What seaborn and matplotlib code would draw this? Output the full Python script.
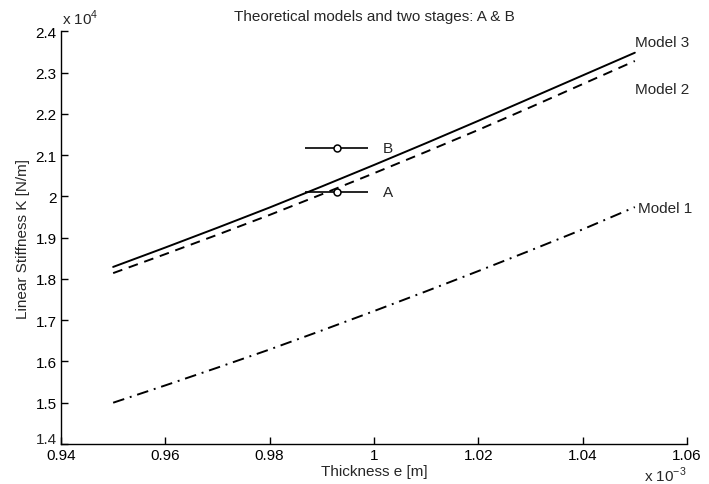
import matplotlib
matplotlib.use("Agg")
import matplotlib.pyplot as plt
import matplotlib.transforms as mtransforms
import seaborn as sns
import pandas as pd
from matplotlib.ticker import FuncFormatter, MultipleLocator

# thickness in units of 1e-3 m, stiffness in units of 1e4 N/m
thickness = [0.95, 0.96, 0.97, 0.98, 0.99, 1.00, 1.01, 1.02, 1.03, 1.04, 1.05]
model_3 = [1.829, 1.876, 1.924, 1.973, 2.024, 2.076, 2.129, 2.183, 2.238, 2.293, 2.348]
model_2 = [1.814, 1.860, 1.907, 1.955, 2.005, 2.056, 2.108, 2.161, 2.216, 2.272, 2.328]
model_1 = [1.500, 1.542, 1.585, 1.629, 1.675, 1.722, 1.770, 1.819, 1.869, 1.920, 1.974]

stages = ["B", "A"]
stage_e = [0.99285, 0.99285]
stage_k = [2.116, 2.011]
stage_err = [0.006, 0.006]

y_min, y_max = 1.4, 2.4


def setup_style():
    sns.set_theme(style="white")
    plt.rcParams["font.family"] = ["Liberation Sans", "DejaVu Sans"]
    plt.rcParams["mathtext.fontset"] = "custom"
    plt.rcParams["mathtext.rm"] = "Liberation Sans"


setup_style()

df = pd.DataFrame({
    "e": thickness * 3,
    "K": model_3 + model_2 + model_1,
    "model": ["Model 3"] * 11 + ["Model 2"] * 11 + ["Model 1"] * 11,
})

fig = plt.figure(figsize=(7.09, 4.85), dpi=100)
ax = fig.add_axes([0.086, 0.0825, 0.883, 0.851])

sns.lineplot(data=df, x="e", y="K", style="model", ax=ax, color="black",
             linewidth=1.4, legend=False,
             dashes={"Model 3": "", "Model 2": (5, 3.5), "Model 1": (6, 3, 1, 3)})

for name, e, k, err in zip(stages, stage_e, stage_k, stage_err):
    ax.errorbar(e, k, xerr=err, fmt="o", color="black", mfc="white",
                markersize=5, mew=1.1, elinewidth=1.2, capsize=0)
    ax.text(e + 0.0089, k, name, fontsize=11, va="center", ha="left")

ax.text(1.0500, 2.373, "Model 3", fontsize=11, va="center", ha="left")
ax.text(1.0500, 2.26, "Model 2", fontsize=11, va="center", ha="left")
ax.text(1.0506, 1.971, "Model 1", fontsize=11, va="center", ha="left")

ax.set_xlim(0.94, 1.06)
ax.set_ylim(y_min, y_max)
ax.xaxis.set_major_locator(MultipleLocator(0.02))
ax.yaxis.set_major_locator(MultipleLocator(0.1))
ax.xaxis.set_major_formatter(FuncFormatter(lambda v, p: "%g" % round(v, 2)))
# the lowest y label is drawn by hand, nudged up clear of the 0.94 label
ax.yaxis.set_major_formatter(FuncFormatter(
    lambda v, p: "" if abs(v - y_min) < 1e-6 else "%g" % round(v, 1)))
lift = ax.get_yaxis_transform() + mtransforms.ScaledTranslation(-3 / 72, 3.5 / 72, fig.dpi_scale_trans)
ax.text(0, y_min, "%g" % y_min, fontsize=11, ha="right", va="center", transform=lift)

for side in ["top", "right"]:
    ax.spines[side].set_visible(False)
for side in ["left", "bottom"]:
    ax.spines[side].set_color("black")
    ax.spines[side].set_linewidth(1.0)

ax.tick_params(direction="in", length=5, width=1, colors="black",
               labelsize=11, pad=3, left=True, bottom=True)

ax.set_title("Theoretical models and two stages: A & B", fontsize=11, pad=8)
ax.set_xlabel("Thickness e [m]", fontsize=11, labelpad=1)
ax.set_ylabel("Linear Stiffness K [N/m]", fontsize=11, labelpad=4)

fig.text(0.087, 0.943, "x 10$^4$", fontsize=11, ha="left", va="bottom")
fig.text(0.968, 0.0, "x 10$^{-3}$", fontsize=11, ha="right", va="bottom")

plt.savefig("out.png", dpi=100)
plt.close()
